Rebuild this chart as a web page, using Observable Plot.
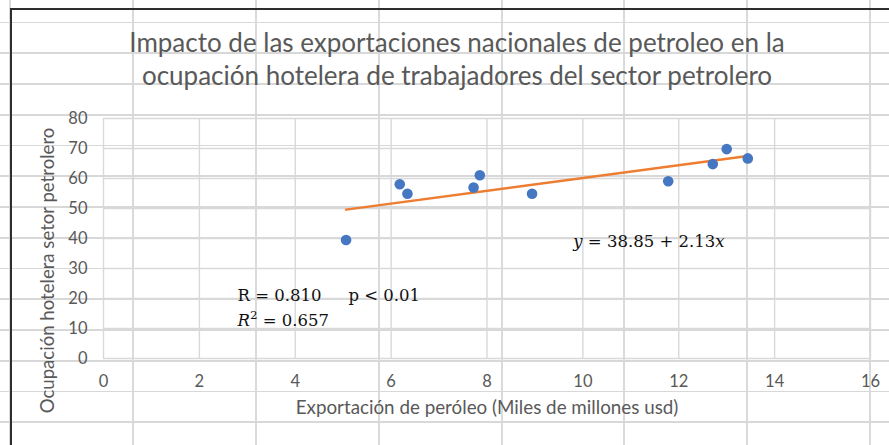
<!DOCTYPE html>
<html><head><meta charset="utf-8">
<script src="https://cdn.jsdelivr.net/npm/d3@7"></script>
<script src="https://cdn.jsdelivr.net/npm/@observablehq/plot@0.6"></script>
<style>
html,body{margin:0;padding:0;background:#fff;}
#sheet{position:relative;width:889px;height:445px;overflow:hidden;background-color:#fff;
background-image:
 linear-gradient(#2e2e2e,#2e2e2e),
 linear-gradient(#2e2e2e,#2e2e2e),
 repeating-linear-gradient(to bottom, transparent 0 21.5px, #d8d8d8 21.5px 23.3px, transparent 23.3px 30.75px),
 repeating-linear-gradient(to right, transparent 0 9.5px, #dadada 9.5px 11.5px, transparent 11.5px 122.8px);
background-repeat:no-repeat,no-repeat,repeat,repeat;
background-size:2px 437px, 879px 2px, auto, auto;
background-position:10px 8px, 10px 8px, 0 0, 0 0;}
#sheet svg{position:absolute;left:0;top:0;}
</style></head>
<body><div id="sheet"></div>
<script>
// Data
const exportX = [5.06, 6.18, 6.34, 7.72, 7.85, 8.94, 11.78, 12.71, 13.00, 13.44];
const ocupacionY = [39.5, 58.1, 54.9, 57.0, 61.1, 54.9, 59.1, 64.8, 69.8, 66.7];
const xTicks = [0, 2, 4, 6, 8, 10, 12, 14, 16];
const yTicks = [0, 10, 20, 30, 40, 50, 60, 70, 80];
const trendIntercept = 38.85;
const trendSlope = 2.13;
const titleText = "Impacto de las exportaciones nacionales de petroleo en la\nocupación hotelera de trabajadores del sector petrolero";
const xLabel = "Exportación de peróleo (Miles de millones usd)";
const yLabel = "Ocupación hotelera setor petrolero";
const annText = ["R = 0.810", "p < 0.01", "*R*^2 = 0.657", "*y* = 38.85 + 2.13*x*"];
const annX = [2.795, 5.11, 2.795, 9.80];
const annY = [21.0, 21.0, 12.7, 39.0];

const points = exportX.map((x, i) => ({x, y: ocupacionY[i]}));
const xMin = d3.min(exportX), xMax = d3.max(exportX);
const trend = [xMin, xMax].map(x => ({x, y: trendIntercept + trendSlope * x}));
const ann = annText.map((t, i) => ({t, x: annX[i], y: annY[i]}));

const plot = Plot.plot({
  width: 889, height: 445,
  marginLeft: 103, marginRight: 19, marginTop: 118, marginBottom: 87,
  style: {background: "transparent", fontFamily: "Lato, sans-serif", color: "#595959", overflow: "visible"},
  x: {domain: [0, 16]},
  y: {domain: [0, 80]},
  marks: [
    Plot.gridX(xTicks, {stroke: "#d9d9d9", strokeOpacity: 1, strokeWidth: 1.4}),
    Plot.gridY(yTicks, {stroke: "#d9d9d9", strokeOpacity: 1, strokeWidth: 1.4}),
    Plot.axisX(xTicks, {tickSize: 0, tickPadding: 17, fontSize: 16.5, label: null, fill: "#595959"}),
    Plot.axisY(yTicks, {tickSize: 0, tickPadding: 16, fontSize: 16.5, label: null, fill: "#595959"}),
    Plot.line(trend, {x: "x", y: "y", stroke: "#ED7D31", strokeWidth: 2.5}),
    Plot.dot(points, {x: "x", y: "y", r: 5.3, fill: "#4677C2", stroke: "none"}),
    Plot.text(ann, {x: "x", y: "y", text: "t", textAnchor: "start", lineAnchor: "middle",
      fontFamily: "DejaVu Serif, serif", fontSize: 16.5, fill: "#111"}),
    Plot.text([titleText], {frameAnchor: "top", textAnchor: "middle", dx: -30, dy: -61, lineAnchor: "middle", lineHeight: 1.28,
      fontSize: 26, fill: "#595959"}),
    Plot.text([xLabel], {frameAnchor: "bottom", textAnchor: "middle", dy: 55, fontSize: 18.8, fill: "#595959"}),
    Plot.text([yLabel], {frameAnchor: "left", textAnchor: "middle", rotate: -90, dx: -55, dy: 32, fontSize: 18.6, fill: "#595959"})
  ]
});
document.getElementById("sheet").appendChild(plot);

// rich text: *italic* and ^superscript
d3.select(plot).selectAll("text").each(function() {
  if (this.querySelector("tspan")) return;
  const s = this.textContent;
  if (!/[*^]/.test(s)) return;
  const el = d3.select(this);
  el.text(null);
  s.split(/(\*[^*]+\*|\^\d)/).filter(p => p).forEach(p => {
    if (p[0] === "*") el.append("tspan").attr("font-style", "italic").text(p.slice(1, -1));
    else if (p[0] === "^") el.append("tspan").attr("baseline-shift", "super").attr("font-size", "72%").text(p.slice(1));
    else el.append("tspan").text(p);
  });
});
</script></body></html>
